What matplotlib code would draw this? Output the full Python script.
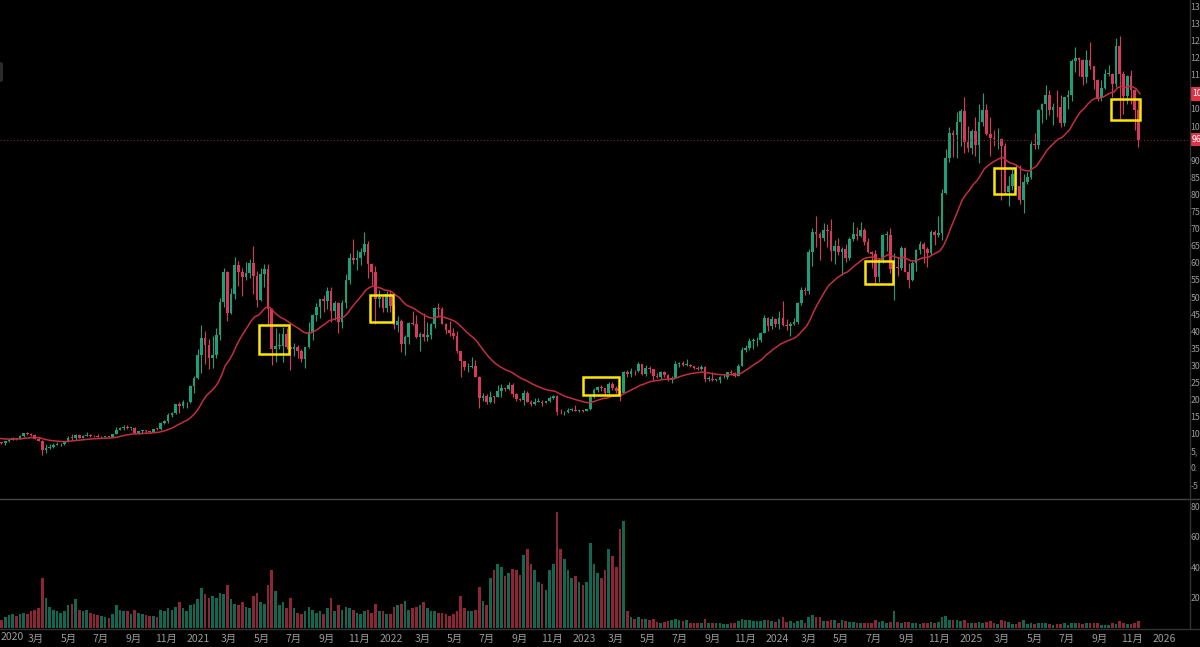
import numpy as np
import pandas as pd
import matplotlib
matplotlib.use("Agg")
import matplotlib.pyplot as plt
import matplotlib.dates as mdates
from matplotlib.patches import Rectangle, FancyBboxPatch
from matplotlib.lines import Line2D

plt.rcParams['font.family'] = ['Noto Sans CJK SC', 'DejaVu Sans']

# Weekly BTC/USDT candles (week starting Monday), estimated from the chart
# 2019 weeks start 2019-07-29 (mostly left of the view, they warm up the moving average)
close_2019 = [10980, 11390, 10230, 10140, 10390, 10400, 10300, 10030, 8050, 7880, 8290, 8230,
              9550, 9200, 8800, 8500, 6900, 7420, 7510, 7080, 7520, 7390, 7760]
high_2019 = [11080, 12330, 11450, 10950, 10650, 10900, 10480, 10350, 10050, 8500, 8820, 8420,
             10540, 9950, 9510, 8880, 8600, 7850, 7750, 7650, 7580, 7700, 7860]
low_2019 = [9420, 10950, 9460, 9850, 9320, 10150, 9900, 9600, 7710, 7760, 7780, 7900,
            7300, 8990, 8700, 8390, 6520, 6850, 7250, 7050, 6440, 7110, 6870]
vol_2019 = [70, 75, 65, 55, 60, 55, 50, 55, 90, 60, 55, 50, 90, 70, 55, 50, 85, 65, 50, 55, 70, 55, 75]

close_2020 = [8180, 8700, 8600, 9380, 10150, 9900, 9690, 8530, 8040, 5360, 5830, 6250, 6770,
              6900, 7120, 7700, 8900, 8720, 9680, 8720, 9450, 9670, 9380, 9300, 9010, 9070,
              9250, 9160, 9930, 11050, 11680, 11900, 11650, 11680, 10250, 10680, 11080, 10770, 10670,
              11380, 11360, 13030, 13780, 15480, 16050, 18680, 18180, 19160, 19270, 24030, 26460, 33000]
high_2020 = [8470, 9190, 8790, 9590, 10170, 10500, 10250, 9970, 9190, 8170, 6900, 6980, 7290,
             7470, 7300, 7790, 9460, 10070, 9950, 9900, 9740, 10430, 9990, 9590, 9800, 9380,
             9480, 9340, 10020, 12120, 12120, 12470, 12480, 11800, 12090, 10790, 11180, 11130, 10950,
             11490, 11720, 13350, 14100, 15970, 16480, 18800, 19420, 19920, 19430, 24300, 26800, 34780]
low_2020 = [7730, 8100, 8240, 8550, 9150, 9730, 9300, 8410, 8000, 3780, 4440, 5700, 5860,
            6660, 6470, 6760, 7650, 8100, 8100, 8640, 8630, 9260, 9100, 9160, 8920, 8890,
            9050, 9010, 9140, 9900, 10970, 11130, 11370, 11130, 9870, 9880, 10270, 10140, 10370,
            10540, 11210, 11250, 12750, 13200, 14800, 15800, 16200, 17650, 17600, 19000, 21810, 26090]
vol_2020 = [85, 95, 80, 90, 100, 95, 110, 120, 130, 330, 200, 140, 120,
            110, 100, 110, 150, 160, 190, 120, 110, 120, 100, 90, 85, 80,
            70, 65, 90, 150, 120, 110, 110, 90, 120, 100, 90, 85, 80,
            80, 75, 120, 110, 130, 120, 140, 170, 130, 110, 150, 160, 190]

close_2021 = [38150, 36020, 32100, 33100, 38900, 48600, 57400, 45200, 50950, 59300, 57350, 55800, 57100,
              60000, 56250, 49000, 56600, 58250, 46400, 34700, 35700, 35800, 39100, 35500, 34700, 35300,
              34250, 31800, 35400, 39850, 44600, 47100, 49300, 48800, 51750, 46000, 48300, 42800, 48200,
              54900, 61500, 60900, 61300, 63300, 65500, 59700, 57300, 49400, 50100, 46700, 50800, 47300]
high_2021 = [41950, 40100, 37850, 38530, 40950, 49700, 58350, 57500, 52640, 61800, 60630, 58400, 60200,
             61200, 64850, 57500, 58450, 59600, 59600, 46700, 40900, 39480, 41330, 41060, 35750, 36670,
             35950, 34680, 35500, 42600, 45000, 48150, 49500, 50500, 52900, 52900, 48850, 48400, 49200,
             56600, 62900, 67000, 63700, 64300, 69000, 66300, 59800, 59000, 51950, 50200, 51900, 52100]
low_2021 = [27730, 30420, 28850, 29240, 32300, 37400, 47000, 43000, 45000, 49300, 53300, 50300, 54900,
            55500, 51000, 47000, 48800, 52900, 42000, 30000, 31100, 34800, 31000, 34800, 28800, 32700,
            32200, 31050, 29300, 35200, 37500, 43000, 43950, 45600, 46500, 42800, 43400, 39600, 40800,
            46900, 53900, 59700, 57800, 59400, 62300, 55600, 53500, 42000, 47000, 45500, 45550, 45700]
vol_2021 = [260, 220, 200, 210, 200, 230, 220, 280, 190, 160, 150, 170, 140,
            130, 210, 230, 170, 160, 280, 380, 240, 150, 170, 130, 200, 130,
            100, 90, 110, 140, 120, 100, 110, 90, 130, 200, 110, 150, 120,
            140, 130, 120, 100, 90, 110, 120, 100, 160, 110, 110, 90, 90]

close_2022 = [41900, 43100, 36300, 38200, 42400, 42200, 38400, 39100, 38400, 38800, 42200, 46800, 46400,
              42150, 40400, 39500, 38600, 34300, 31300, 29450, 29450, 29900, 26600, 20550, 21050, 19300,
              20850, 20800, 22600, 23300, 23200, 24300, 21500, 20050, 19850, 21800, 19400, 18800, 19300,
              19400, 19070, 19570, 20600, 21150, 16300, 16280, 16450, 17100, 17100, 16750, 16840, 16620]
high_2022 = [47570, 44500, 43500, 38900, 42650, 45850, 44700, 39800, 45400, 42600, 42400, 46950, 48200,
             47200, 42400, 42950, 40800, 40000, 34350, 31400, 30650, 32400, 31700, 26900, 21900, 21500,
             22550, 21000, 24250, 24650, 23650, 25200, 25000, 21800, 20550, 22800, 22500, 19950, 20350,
             20500, 19950, 19700, 21100, 21450, 21480, 17200, 16800, 17400, 17450, 18400, 17050, 16970]
low_2022 = [40600, 39650, 34000, 32900, 36250, 41700, 38000, 34300, 37200, 37150, 37600, 40900, 44200,
            42000, 39200, 38550, 37600, 33700, 26700, 28650, 28000, 29300, 26550, 17600, 19600, 18800,
            19000, 18900, 20750, 20700, 22400, 22700, 20800, 19550, 19550, 18500, 19300, 18150, 18450,
            19200, 18200, 18900, 19250, 20050, 15600, 15800, 15480, 16000, 16800, 16550, 16400, 16300]
vol_2022 = [140, 150, 160, 180, 120, 130, 140, 150, 170, 130, 110, 110, 100,
            100, 90, 80, 90, 110, 210, 130, 110, 110, 120, 270, 180, 150,
            330, 380, 420, 400, 340, 360, 390, 380, 350, 480, 520, 420, 380,
            300, 290, 250, 380, 420, 760, 520, 450, 380, 330, 340, 300, 280]

close_2023 = [17130, 20880, 22700, 23750, 23320, 21800, 24650, 23500, 22400, 22000, 28000, 27500, 28450,
              28300, 30300, 27600, 29250, 28900, 26900, 26750, 28100, 27100, 25900, 26340, 30500, 30600,
              30150, 30250, 29800, 29300, 29050, 29400, 26100, 26100, 25800, 25850, 26500, 26500, 27950,
              27900, 26850, 29900, 34500, 35000, 37050, 37350, 37450, 39450, 43750, 41600, 43700, 42250]
high_2023 = [17200, 21250, 23350, 23950, 24250, 23450, 25250, 25250, 23900, 22600, 28400, 28800, 29200,
             28800, 31000, 30500, 30050, 29850, 28900, 27650, 28250, 28450, 27400, 26800, 31400, 31000,
             31400, 31800, 30400, 29950, 29750, 30250, 29700, 26800, 28150, 26100, 27000, 27450, 28050,
             28600, 28000, 30350, 35250, 35950, 38000, 37950, 38400, 39650, 44700, 44050, 44350, 43800]
low_2023 = [16550, 17100, 20400, 22300, 22500, 21350, 21500, 22700, 21950, 19550, 21800, 26600, 26500,
            27200, 28150, 27100, 26950, 27700, 25800, 26350, 25900, 26600, 25350, 24800, 26250, 29500,
            29750, 29950, 29500, 28850, 28600, 28700, 25150, 25350, 25350, 25350, 24900, 26350, 26000,
            27200, 26550, 26800, 29850, 33900, 34550, 34800, 35650, 36850, 39450, 40200, 40550, 41300]
vol_2023 = [300, 560, 420, 360, 330, 380, 520, 470, 400, 650, 700, 110, 70,
            60, 70, 60, 60, 50, 60, 40, 35, 40, 45, 50, 60, 55,
            45, 55, 35, 35, 30, 30, 60, 35, 30, 30, 35, 25, 25,
            30, 30, 45, 60, 50, 50, 45, 45, 45, 55, 50, 45, 40]

close_2024 = [43900, 41700, 41550, 42050, 42600, 48300, 52150, 51700, 63100, 68900, 68400, 67200, 69600,
              69300, 63400, 64900, 63100, 64000, 61500, 66900, 68500, 67750, 69600, 66200, 63200, 62700,
              55850, 60800, 68200, 68250, 58200, 58700, 58400, 64200, 57300, 54850, 59950, 63600, 65600, 63900,
              62850, 69000, 68000, 68700, 80400, 90500, 97900, 97250, 101150, 104400, 95200, 93700, 98400]
high_2024 = [45900, 48950, 43550, 42800, 43850, 48550, 52800, 52950, 64000, 70150, 73750, 68950, 71750,
             71300, 72800, 66800, 67200, 64750, 65500, 67450, 71950, 70600, 71950, 70200, 67200, 63400,
             63850, 61400, 68400, 69400, 70050, 62750, 61800, 65000, 64500, 59800, 60600, 64100, 66500, 66000,
             64500, 69500, 69500, 73600, 81500, 93250, 99600, 98700, 104000, 105000, 108350, 99900, 99000]
low_2024 = [40750, 41500, 40300, 38500, 41850, 42250, 47700, 50600, 50900, 59000, 64500, 60750, 66400,
            64500, 60650, 59600, 62400, 56550, 60200, 60750, 66300, 66600, 67600, 65100, 63000, 58400,
            53500, 54250, 59900, 63400, 57100, 49000, 56100, 57800, 57200, 52550, 54600, 57500, 62700, 59800,
            58900, 62400, 65100, 67450, 66800, 80200, 89400, 90800, 90500, 94150, 92200, 92500, 91750]
vol_2024 = [60, 70, 40, 45, 35, 45, 50, 35, 75, 85, 70, 70, 45,
            45, 55, 50, 35, 50, 45, 40, 40, 30, 30, 35, 30, 35,
            50, 40, 45, 30, 40, 110, 40, 35, 40, 40, 35, 30, 25, 35,
            35, 40, 30, 40, 75, 80, 55, 50, 50, 45, 55, 30, 30]

close_2025 = [94500, 101300, 104700, 97700, 96450, 96100, 96250, 94200, 80700, 82600, 86100, 82400, 78400,
              83700, 85200, 94650, 94300, 104650, 106450, 109000, 104600, 105700, 105500, 100900, 108400, 109200,
              119100, 119800, 119400, 114200, 119300, 117400, 113500, 108250, 111150, 115300, 115300, 112200, 123500,
              115100, 108650, 114500, 110500, 104700, 96050]
high_2025 = [102700, 106400, 109600, 106450, 102500, 98900, 99500, 96500, 95000, 85300, 87450, 88800, 88500,
             86000, 86500, 95750, 97900, 104950, 106650, 111950, 110400, 106800, 110600, 108950, 108500, 110500,
             119500, 123200, 120250, 119500, 122300, 124450, 117600, 113600, 113400, 116750, 117900, 115400, 125700,
             126200, 116000, 114800, 116400, 110800, 107500]
low_2025 = [91200, 89250, 100100, 97300, 91200, 94100, 93350, 78250, 80000, 76600, 81150, 81600, 77150,
            74500, 83000, 84600, 93250, 93400, 100800, 102000, 103100, 100400, 102700, 99700, 100000, 105100,
            107450, 115700, 114700, 112000, 112650, 116800, 110700, 107250, 107300, 110700, 114700, 108600, 111550,
            102000, 103500, 106400, 106300, 98900, 94000]
vol_2025 = [35, 40, 35, 40, 45, 30, 25, 50, 45, 40, 25, 25, 40,
            50, 25, 35, 25, 35, 35, 35, 25, 20, 25, 25, 30, 20,
            35, 30, 30, 25, 30, 30, 30, 35, 20, 20, 20, 30, 25,
            45, 35, 25, 25, 35, 45]

first_open = 9500

# highlighted zones (start, end, top, bottom)
box_start = ['2021-04-26', '2021-11-22', '2022-12-29', '2024-06-14', '2025-02-14', '2025-09-23']
box_end = ['2021-06-22', '2022-01-04', '2023-03-07', '2024-08-06', '2025-03-25', '2025-11-16']
box_top = [41800, 50600, 26600, 60500, 87700, 107900]
box_bottom = [33300, 42700, 21300, 53800, 80100, 101800]

closes = np.array(close_2019 + close_2020 + close_2021 + close_2022 + close_2023 + close_2024 + close_2025, float)
highs = np.array(high_2019 + high_2020 + high_2021 + high_2022 + high_2023 + high_2024 + high_2025, float)
lows = np.array(low_2019 + low_2020 + low_2021 + low_2022 + low_2023 + low_2024 + low_2025, float)
vols = np.array(vol_2019 + vol_2020 + vol_2021 + vol_2022 + vol_2023 + vol_2024 + vol_2025, float) * 1000
assert len(closes) == len(highs) == len(lows) == len(vols), (len(closes), len(highs), len(lows), len(vols))

opens = np.concatenate([[first_open], closes[:-1]])
weeks = pd.date_range('2019-07-29', periods=len(closes), freq='W-MON')
ma = pd.Series(closes).ewm(span=20, adjust=False).mean().values

up_col, dn_col = '#1f9e7a', '#d8385a'
vup_col, vdn_col = '#13664f', '#8a2636'
txt_col = '#9a9a9a'
line_col = '#333333'
lab_col = '#e03345'

W, H = 1200, 647
fig = plt.figure(figsize=(12, 6.47), dpi=100, facecolor='black')
ax = fig.add_axes([0, (H - 498) / H, 1189 / W, 498 / H], facecolor='black')
axv = fig.add_axes([0, (H - 628) / H, 1189 / W, 129 / H], facecolor='black', sharex=ax)

xc = mdates.date2num(weeks) + 3.5
is_up = closes >= opens
colors = np.where(is_up, up_col, dn_col)
ax.vlines(xc, lows, highs, colors=colors, linewidth=0.8)
body = np.maximum(np.abs(closes - opens), 200)
ax.bar(xc, body, bottom=np.minimum(opens, closes), width=5.0, color=colors, linewidth=0)

ax.plot(mdates.date2num(weeks) + 6.5, ma, color='#c22f3e', linewidth=1.1)

for s, e, t, b in zip(box_start, box_end, box_top, box_bottom):
    x0 = mdates.datestr2num(s)
    x1 = mdates.datestr2num(e)
    ax.add_patch(Rectangle((x0, b), x1 - x0, t - b, fill=False, edgecolor='#ffe600', linewidth=1.8, zorder=5))

last = closes[-1]
ax.axhline(last, color='#7a2a33', linewidth=0.8, linestyle=(0, (1, 2)))

# x range: 2020-01-01 sits ~4px in, ~0.529 px per day
day_px = 0.529
x_left = mdates.datestr2num('2020-01-01') - 4.4 / day_px
ax.set_xlim(x_left, x_left + 1189 / day_px)
ax.set_ylim(-8772, 136843)

# price scale is cut off by the right edge of the screenshot: only the first two characters show
yt = [v for v in range(-5000, 135001, 5000) if abs(v - ma[-1]) > 2500 and abs(v - last) > 2500]
ax.yaxis.tick_right()
ax.set_yticks(yt)
ax.set_yticklabels([f'{v:,.2f}'[:2] for v in yt])
ax.tick_params(axis='y', length=0, pad=1.2, labelsize=6.3, colors=txt_col)
ax.tick_params(axis='x', bottom=False, labelbottom=False)
for sp in ax.spines.values():
    sp.set_visible(False)

# last-value labels (moving average and price)
for val in (ma[-1], last):
    ax.add_patch(Rectangle((1.0005, val - 2000), 0.012, 4000, transform=ax.get_yaxis_transform(),
                           facecolor=lab_col, edgecolor='none', clip_on=False, zorder=6))
    ax.text(1.0025, val, f'{val:,.2f}'[:2], transform=ax.get_yaxis_transform(), ha='left', va='center',
            fontsize=6.3, color='white', clip_on=False, zorder=7)

# volume pane
vcolors = np.where(is_up, vup_col, vdn_col)
axv.bar(xc, vols, width=5.0, color=vcolors, linewidth=0)
axv.set_ylim(0, 846000)
axv.yaxis.tick_right()
vt = [200000, 400000, 600000, 800000]
axv.set_yticks(vt)
axv.set_yticklabels([f'{v // 1000}K'[:2] for v in vt])
axv.tick_params(axis='y', length=0, pad=1.2, labelsize=6.3, colors=txt_col)
for sp in axv.spines.values():
    sp.set_visible(False)

tick_dates = pd.date_range('2020-01-01', '2026-01-01', freq='2MS')
axv.set_xticks(mdates.date2num(tick_dates))
tick_text = [str(d.year) if d.month == 1 else f'{d.month}月' for d in tick_dates]
axv.set_xticklabels([''] + tick_text[1:])
axv.tick_params(axis='x', length=0, pad=4, labelsize=7.5, colors=txt_col)
axv.set_xlim(x_left, x_left + 1189 / day_px)
fig.text(1 / W, (H - 637) / H, tick_text[0], ha='left', va='center', fontsize=7.5, color=txt_col)

# pane separators
fig.add_artist(Line2D([0, 1], [(H - 498.5) / H] * 2, color='#444444', linewidth=1))
fig.add_artist(Line2D([0, 1], [(H - 628.5) / H] * 2, color=line_col, linewidth=1))
fig.add_artist(Line2D([1189.5 / W] * 2, [(H - 628.5) / H, 1], color=line_col, linewidth=1))
fig.add_artist(FancyBboxPatch((-3 / W, (H - 82) / H), 6 / W, 20 / H,
                              boxstyle='round,pad=0,rounding_size=0.003', fc='#2b2b2b', ec='none'))

fig.savefig('out.png', dpi=100, facecolor='black')
